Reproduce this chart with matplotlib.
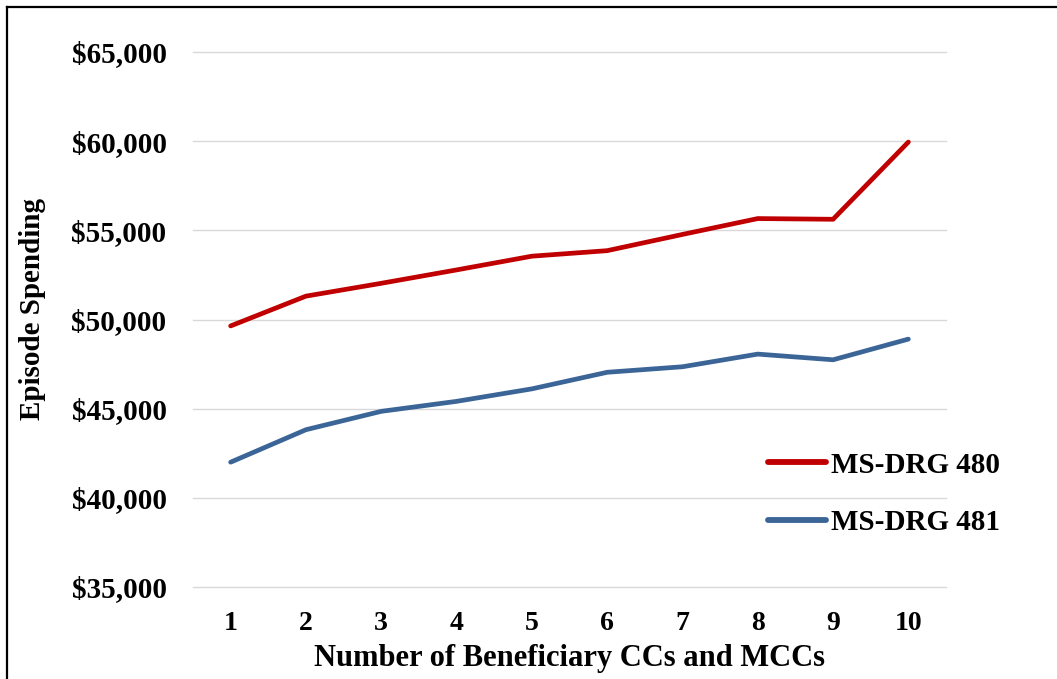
import matplotlib
matplotlib.use("Agg")
import matplotlib.pyplot as plt
from matplotlib.lines import Line2D
from matplotlib.ticker import FuncFormatter

# Episode spending by number of beneficiary CCs and MCCs
cc_counts = [1, 2, 3, 4, 5, 6, 7, 8, 9, 10]
drg_480 = [49640, 51310, 52030, 52780, 53550, 53860, 54770, 55660, 55620, 59950]
drg_481 = [42000, 43820, 44850, 45410, 46110, 47040, 47350, 48060, 47740, 48900]
y_ticks = [35000, 40000, 45000, 50000, 55000, 60000, 65000]
series_labels = ["MS-DRG 480", "MS-DRG 481"]

plt.rcParams["font.family"] = ["Liberation Serif", "DejaVu Serif"]
plt.rcParams["font.weight"] = "bold"

W, H = 1057, 679
fig = plt.figure(figsize=(W / 100, H / 100), dpi=100)
ax = fig.add_axes([193 / W, 1 - 587 / H, (946 - 193) / W, (587 - 52) / H])

ax.plot(cc_counts, drg_480, color="#C00000", lw=3.4, solid_capstyle="round",
        solid_joinstyle="round", label=series_labels[0], zorder=3)
ax.plot(cc_counts, drg_481, color="#3B6597", lw=3.4, solid_capstyle="round",
        solid_joinstyle="round", label=series_labels[1], zorder=3)

ax.set_xlim(0.5, 10.5)
ax.set_ylim(y_ticks[0], y_ticks[-1])
ax.set_xticks(cc_counts)
ax.set_yticks(y_ticks)
ax.yaxis.set_major_formatter(FuncFormatter(lambda v, _: f"${v:,.0f}"))
ax.grid(axis="y", color="#D9D9D9", lw=1.0, zorder=0)
for gl in ax.get_ygridlines():
    gl.set_clip_on(False)
ax.tick_params(axis="both", length=0)
ax.tick_params(axis="y", labelsize=21, pad=19)
ax.tick_params(axis="x", labelsize=20, pad=17)
for s in ax.spines.values():
    s.set_visible(False)

ax.set_xlabel("Number of Beneficiary CCs and MCCs", fontsize=22, fontweight="bold", labelpad=6)
ax.set_ylabel("Episode Spending", fontsize=21, fontweight="bold")
ax.yaxis.set_label_coords(-147 / (946 - 193), 0.52)

leg = ax.legend(loc="center left", bbox_to_anchor=(768 / W, 1 - 494 / H),
                bbox_transform=fig.transFigure, frameon=False,
                prop={"size": 21, "weight": "bold"}, handlelength=2.0,
                handletextpad=0.15, labelspacing=1.05, borderpad=0, borderaxespad=0)
for h in leg.get_lines():
    h.set_linewidth(4.2)

# outer frame (top and left edges)
fig.add_artist(Line2D([7 / W, 1.0], [1 - 7 / H, 1 - 7 / H], color="black", lw=1.6,
                      transform=fig.transFigure))
fig.add_artist(Line2D([7 / W, 7 / W], [0.0, 1 - 7 / H], color="black", lw=1.6,
                      transform=fig.transFigure))

fig.savefig("out.png", dpi=100)
